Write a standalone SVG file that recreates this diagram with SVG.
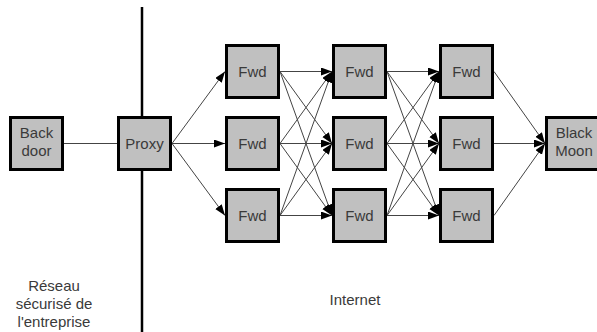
<svg xmlns="http://www.w3.org/2000/svg" width="597" height="332" viewBox="0 0 597 332">
<style>
.box{fill:#c0c0c0;stroke:#000;stroke-width:3}
.t{font-family:"Liberation Sans",Arial,sans-serif;font-size:15px;fill:#3a3a3a;text-anchor:middle}
.e{stroke:#444;stroke-width:1;fill:none}
.a{marker-end:url(#arr)}
</style>
<defs>
<marker id="arr" markerUnits="userSpaceOnUse" markerWidth="12" markerHeight="10" refX="11" refY="4" orient="auto">
<path d="M0,0 L11,4 L0,8 Z" fill="#000"/>
</marker>
</defs>
<rect width="597" height="332" fill="#fff"/>
<line x1="142" y1="7" x2="142" y2="332" stroke="#000" stroke-width="2.5"/>
<g id="connectors">
<line class="e" x1="64" y1="143.5" x2="117" y2="143.5"/>
<line class="e a" x1="172" y1="143.5" x2="225" y2="71.5"/>
<line class="e a" x1="172" y1="143.5" x2="225" y2="143.5"/>
<line class="e a" x1="172" y1="143.5" x2="225" y2="215.5"/>
<line class="e a" x1="280" y1="71.5" x2="332" y2="71.5"/>
<line class="e a" x1="280" y1="71.5" x2="332" y2="143.5"/>
<line class="e a" x1="280" y1="71.5" x2="332" y2="215.5"/>
<line class="e a" x1="280" y1="143.5" x2="332" y2="71.5"/>
<line class="e a" x1="280" y1="143.5" x2="332" y2="143.5"/>
<line class="e a" x1="280" y1="143.5" x2="332" y2="215.5"/>
<line class="e a" x1="280" y1="215.5" x2="332" y2="71.5"/>
<line class="e a" x1="280" y1="215.5" x2="332" y2="143.5"/>
<line class="e a" x1="280" y1="215.5" x2="332" y2="215.5"/>
<line class="e a" x1="387" y1="71.5" x2="439" y2="71.5"/>
<line class="e a" x1="387" y1="71.5" x2="439" y2="143.5"/>
<line class="e a" x1="387" y1="71.5" x2="439" y2="215.5"/>
<line class="e a" x1="387" y1="143.5" x2="439" y2="71.5"/>
<line class="e a" x1="387" y1="143.5" x2="439" y2="143.5"/>
<line class="e a" x1="387" y1="143.5" x2="439" y2="215.5"/>
<line class="e a" x1="387" y1="215.5" x2="439" y2="71.5"/>
<line class="e a" x1="387" y1="215.5" x2="439" y2="143.5"/>
<line class="e a" x1="387" y1="215.5" x2="439" y2="215.5"/>
<line class="e a" x1="494" y1="71.5" x2="545" y2="143.5"/>
<line class="e a" x1="494" y1="143.5" x2="545" y2="143.5"/>
<line class="e a" x1="494" y1="215.5" x2="545" y2="143.5"/>
</g>
<g id="backdoor"><rect class="box" x="10.5" y="117.5" width="52" height="52"/><text class="t" x="36.5" y="138">Back</text><text class="t" x="36.5" y="156">door</text></g>
<g id="proxy"><rect class="box" x="118.5" y="117.5" width="52" height="52"/><text class="t" x="144.5" y="148.5">Proxy</text></g>
<g id="fwd11"><rect class="box" x="226.5" y="45.5" width="52" height="52"/><text class="t" x="252.5" y="76.5">Fwd</text></g>
<g id="fwd12"><rect class="box" x="226.5" y="117.5" width="52" height="52"/><text class="t" x="252.5" y="148.5">Fwd</text></g>
<g id="fwd13"><rect class="box" x="226.5" y="189.5" width="52" height="52"/><text class="t" x="252.5" y="220.5">Fwd</text></g>
<g id="fwd21"><rect class="box" x="333.5" y="45.5" width="52" height="52"/><text class="t" x="359.5" y="76.5">Fwd</text></g>
<g id="fwd22"><rect class="box" x="333.5" y="117.5" width="52" height="52"/><text class="t" x="359.5" y="148.5">Fwd</text></g>
<g id="fwd23"><rect class="box" x="333.5" y="189.5" width="52" height="52"/><text class="t" x="359.5" y="220.5">Fwd</text></g>
<g id="fwd31"><rect class="box" x="440.5" y="45.5" width="52" height="52"/><text class="t" x="466.5" y="76.5">Fwd</text></g>
<g id="fwd32"><rect class="box" x="440.5" y="117.5" width="52" height="52"/><text class="t" x="466.5" y="148.5">Fwd</text></g>
<g id="fwd33"><rect class="box" x="440.5" y="189.5" width="52" height="52"/><text class="t" x="466.5" y="220.5">Fwd</text></g>
<g id="blackmoon"><rect class="box" x="546.5" y="117.5" width="52" height="52"/><text class="t" x="574" y="138">Black</text><text class="t" x="574" y="156">Moon</text></g>
<g id="labels">
<text class="t" x="54" y="291">Réseau</text>
<text class="t" x="54" y="309">sécurisé de</text>
<text class="t" x="54" y="327">l'entreprise</text>
<text class="t" x="355" y="305">Internet</text>
</g>
</svg>
